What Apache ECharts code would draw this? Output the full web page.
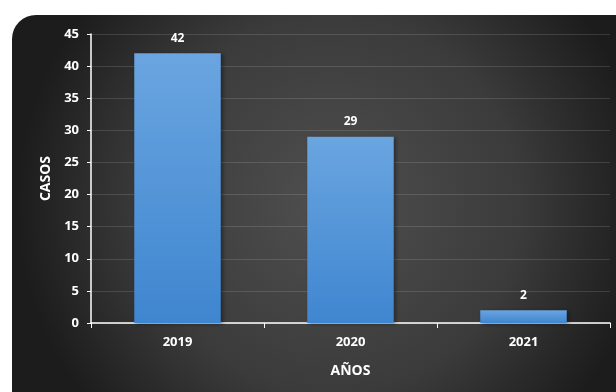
<!DOCTYPE html>
<html><head><meta charset="utf-8">
<script src="https://cdn.jsdelivr.net/npm/echarts@6/dist/echarts.min.js"></script>
<style>html,body{margin:0;padding:0;background:#fff;}#c{width:616px;height:392px;}</style>
</head><body><div id="c"></div>
<script>
const categories = ['2019', '2020', '2021'];
const casos = [42, 29, 2];
const yTicks = { min: 0, max: 45, interval: 5 };

const chart = echarts.init(document.getElementById('c'), null, { renderer: 'canvas' });
const font = 'Open Sans, Liberation Sans, Arial, sans-serif';
chart.setOption({
  animation: false,
  graphic: [{
    type: 'rect', z: -10, silent: true,
    shape: { x: 12, y: 15, width: 640, height: 420, r: [24, 0, 0, 0] },
    style: {
      fill: new echarts.graphic.RadialGradient(0.5, 0.45, 0.75, [
        { offset: 0, color: '#4f4f4f' },
        { offset: 0.6, color: '#3b3b3b' },
        { offset: 1, color: '#1c1c1c' }
      ])
    }
  }],
  grid: { left: 91, top: 34, right: 6, bottom: 69 },
  xAxis: {
    type: 'category', data: categories,
    name: 'AÑOS', nameLocation: 'middle', nameGap: 41,
    nameTextStyle: { color: '#ffffff', fontWeight: 'bold', fontSize: 14, fontFamily: font },
    axisLine: { lineStyle: { color: '#ffffff', width: 1.5 } },
    axisTick: { show: true, length: 5, lineStyle: { color: '#ffffff' } },
    axisLabel: { color: '#ffffff', fontWeight: 'bold', fontSize: 13, fontFamily: font, margin: 13 }
  },
  yAxis: {
    type: 'value', min: yTicks.min, max: yTicks.max, interval: yTicks.interval,
    name: 'CASOS', nameLocation: 'middle', nameGap: 37, nameRotate: 90,
    nameTextStyle: { color: '#ffffff', fontWeight: 'bold', fontSize: 14, fontFamily: font },
    axisLine: { show: true, lineStyle: { color: '#ffffff', width: 1.5 } },
    axisTick: { show: true, length: 4, lineStyle: { color: '#ffffff' } },
    axisLabel: { color: '#ffffff', fontWeight: 'bold', fontSize: 13, fontFamily: font, margin: 12 },
    splitLine: { lineStyle: { color: 'rgba(255,255,255,0.13)', width: 1 } }
  },
  series: [{
    type: 'bar', data: casos, barWidth: '50%',
    itemStyle: {
      color: new echarts.graphic.LinearGradient(0, 0, 0, 1, [
        { offset: 0, color: '#6aa5e0' },
        { offset: 1, color: '#3f86d0' }
      ]),
      shadowColor: 'rgba(0,0,0,0.4)', shadowBlur: 4, shadowOffsetX: 2, shadowOffsetY: 1
    },
    label: { show: true, position: 'top', distance: 9, color: '#ffffff', fontWeight: 'bold', fontSize: 12, fontFamily: font }
  }]
});
</script></body></html>
